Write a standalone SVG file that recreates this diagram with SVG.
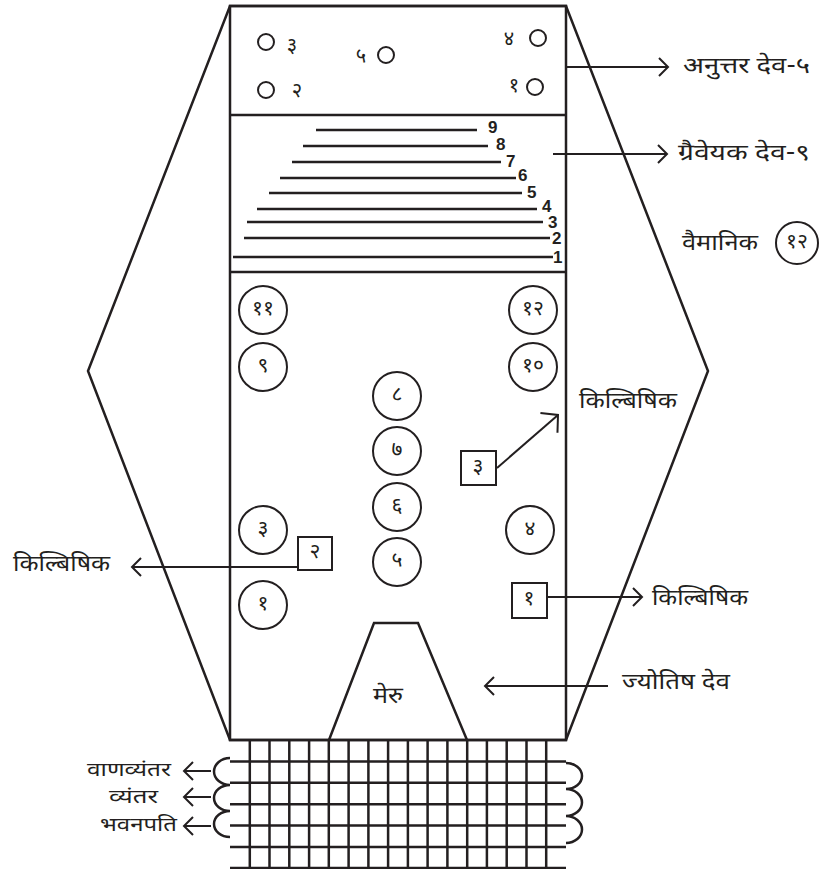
<svg xmlns="http://www.w3.org/2000/svg" width="821" height="869" viewBox="0 0 821 869">
<style>
.s{fill:none;stroke:#231f20;stroke-width:2.5}
.c{fill:#fff;stroke:#231f20;stroke-width:2}
.a{fill:none;stroke:#231f20;stroke-width:2}
.t{font-family:"Noto Sans Devanagari","Lohit Devanagari","Noto Sans","FreeSans",sans-serif;font-size:23px;fill:#231f20;dominant-baseline:central}
.g{font-family:"Noto Sans Devanagari","Lohit Devanagari","Noto Sans","FreeSans",sans-serif;font-size:19px;fill:#231f20;dominant-baseline:central}
.n{font-family:"Noto Sans Devanagari","Lohit Devanagari","Noto Sans",sans-serif;font-size:21px;fill:#231f20;text-anchor:middle;dominant-baseline:central}
.m{font-family:"Noto Sans Devanagari","Lohit Devanagari","Noto Sans",sans-serif;font-size:20px;fill:#231f20;text-anchor:middle;dominant-baseline:central}
.d{font-family:"Liberation Sans",Arial,sans-serif;font-size:17px;font-weight:bold;fill:#231f20;dominant-baseline:central}
</style>
<defs>
<marker id="ah" markerUnits="userSpaceOnUse" viewBox="-12 -12 14 24" markerWidth="14" markerHeight="24" refX="0" refY="0" orient="auto">
<path d="M-9,-9 L0,0 L-9,9" fill="none" stroke="#231f20" stroke-width="2"/>
</marker>
<marker id="ahb" markerUnits="userSpaceOnUse" viewBox="-16 -16 18 32" markerWidth="18" markerHeight="32" refX="0" refY="0" orient="auto">
<path d="M-12,-13 L0,0 L-12,13" fill="none" stroke="#231f20" stroke-width="2"/>
</marker>
</defs>
<rect width="821" height="869" fill="#fff"/>

<g id="frame">
<polygon class="s" points="230,6 566,6 708,371 566,740 230,740 88,371"/>
<rect class="s" x="230" y="6" width="336" height="734"/>
<line class="s" x1="230" y1="115" x2="566" y2="115"/>
<line class="s" x1="230" y1="272" x2="566" y2="272"/>
</g>

<g id="anuttar">
<circle class="c" cx="266" cy="42" r="8"/><text class="m" x="292" y="47">३</text>
<circle class="c" cx="266" cy="90" r="8"/><text class="m" x="297" y="92">२</text>
<circle class="c" cx="386" cy="55" r="8"/><text class="m" x="361" y="58">५</text>
<circle class="c" cx="538" cy="38" r="8"/><text class="m" x="509" y="40">४</text>
<circle class="c" cx="535" cy="87" r="8"/><text class="m" x="514" y="87">१</text>
</g>

<g id="graiveyak">
<line class="s" x1="316" y1="130" x2="477" y2="130"/><text class="d" x="488" y="127">9</text>
<line class="s" x1="303" y1="146" x2="488" y2="146"/><text class="d" x="496" y="144">8</text>
<line class="s" x1="292" y1="162" x2="501" y2="162"/><text class="d" x="506" y="161">7</text>
<line class="s" x1="280" y1="178" x2="516" y2="178"/><text class="d" x="518" y="175">6</text>
<line class="s" x1="269" y1="193" x2="522" y2="193"/><text class="d" x="527" y="192">5</text>
<line class="s" x1="257" y1="209" x2="537" y2="209"/><text class="d" x="542" y="206">4</text>
<line class="s" x1="247" y1="222" x2="543" y2="222"/><text class="d" x="548" y="222">3</text>
<line class="s" x1="244" y1="238" x2="550" y2="238"/><text class="d" x="552" y="238.5">2</text>
<line class="s" x1="233" y1="257" x2="553" y2="257"/><text class="d" x="553" y="257.5">1</text>
</g>

<g id="vaimanik">
<circle class="c" cx="263" cy="310" r="24"/><text class="n" x="263" y="310">११</text>
<circle class="c" cx="263" cy="367" r="24"/><text class="n" x="263" y="367">९</text>
<circle class="c" cx="533" cy="310" r="24"/><text class="n" x="533" y="310">१२</text>
<circle class="c" cx="533" cy="367" r="24"/><text class="n" x="533" y="367">१०</text>
<circle class="c" cx="397" cy="396" r="24"/><text class="n" x="397" y="396">८</text>
<circle class="c" cx="397" cy="451" r="24"/><text class="n" x="397" y="451">७</text>
<circle class="c" cx="397" cy="507" r="24"/><text class="n" x="397" y="507">६</text>
<circle class="c" cx="397" cy="562" r="24"/><text class="n" x="397" y="562">५</text>
<circle class="c" cx="263" cy="530" r="24"/><text class="n" x="263" y="530">३</text>
<circle class="c" cx="263" cy="605" r="24"/><text class="n" x="263" y="605">१</text>
<circle class="c" cx="530" cy="530" r="24"/><text class="n" x="530" y="530">४</text>
</g>

<g id="kilbishik-boxes">
<rect class="c" x="298" y="537" width="34" height="33"/><text class="n" x="315" y="553">२</text>
<rect class="c" x="461" y="451" width="35" height="34"/><text class="n" x="478" y="468">३</text>
<rect class="c" x="512" y="583" width="35" height="35"/><text class="n" x="529" y="600">१</text>
</g>

<g id="meru">
<path class="s" d="M329,740 L374,623 L418,623 L467,740"/>
<text class="t" x="373" y="697" textLength="30" lengthAdjust="spacingAndGlyphs">मेरु</text>
</g>

<g id="grid">
<path class="s" d="M230,761.4H566M230,782.8H566M230,804.2H566M230,825.6H566M230,847H566M230,868H566"/>
<path class="s" d="M249.8,740V869M269.5,740V869M289.3,740V869M309.1,740V869M328.8,740V869M348.6,740V869M368.4,740V869M388.1,740V869M407.9,740V869M427.6,740V869M447.4,740V869M467.2,740V869M486.9,740V869M506.7,740V869M526.5,740V869M546.2,740V869"/>
<path class="s" d="M230,758 A16,13.5 0 0 0 230,785 M230,785 A16,13 0 0 0 230,811 M230,811 A16,13 0 0 0 230,837"/>
<path class="s" d="M566,763 A16,13 0 0 1 566,789 M566,789 A16,13.5 0 0 1 566,816 M566,816 A16,13.5 0 0 1 566,843"/>
</g>

<g id="connectors">
<line class="a" x1="566" y1="67" x2="668" y2="67" marker-end="url(#ah)"/>
<line class="a" x1="553" y1="154" x2="667" y2="154" marker-end="url(#ah)"/>
<line class="a" x1="298" y1="567" x2="132" y2="567" marker-end="url(#ah)"/>
<line class="a" x1="547" y1="597" x2="642" y2="597" marker-end="url(#ah)"/>
<line class="a" x1="497" y1="468" x2="558" y2="415" marker-end="url(#ahb)"/>
<line class="a" x1="608" y1="686" x2="485" y2="686" marker-end="url(#ah)"/>
<line class="a" x1="211" y1="771" x2="184" y2="771" marker-end="url(#ah)"/>
<line class="a" x1="211" y1="797" x2="184" y2="797" marker-end="url(#ah)"/>
<line class="a" x1="211" y1="826" x2="184" y2="826" marker-end="url(#ah)"/>
</g>

<g id="labels">
<text class="t" x="683" y="67" textLength="127" lengthAdjust="spacingAndGlyphs">अनुत्तर देव-५</text>
<text class="t" x="678" y="154" textLength="132" lengthAdjust="spacingAndGlyphs">ग्रैवेयक देव-९</text>
<g id="vaimanik-label">
<text class="t" x="682" y="244" textLength="76" lengthAdjust="spacingAndGlyphs">वैमानिक</text>
<circle class="c" cx="797" cy="243" r="21"/><text class="n" x="797" y="243">१२</text>
</g>
<text class="t" x="579" y="402" textLength="98" lengthAdjust="spacingAndGlyphs">किल्बिषिक</text>
<text class="t" x="13" y="565" textLength="97" lengthAdjust="spacingAndGlyphs">किल्बिषिक</text>
<text class="t" x="652" y="599" textLength="96" lengthAdjust="spacingAndGlyphs">किल्बिषिक</text>
<text class="t" x="622" y="683" textLength="108" lengthAdjust="spacingAndGlyphs">ज्योतिष देव</text>
<text class="g" x="87" y="771" textLength="84" lengthAdjust="spacingAndGlyphs">वाणव्यंतर</text>
<text class="g" x="109" y="798" textLength="49" lengthAdjust="spacingAndGlyphs">व्यंतर</text>
<text class="g" x="100" y="826" textLength="77" lengthAdjust="spacingAndGlyphs">भवनपति</text>
</g>
</svg>
